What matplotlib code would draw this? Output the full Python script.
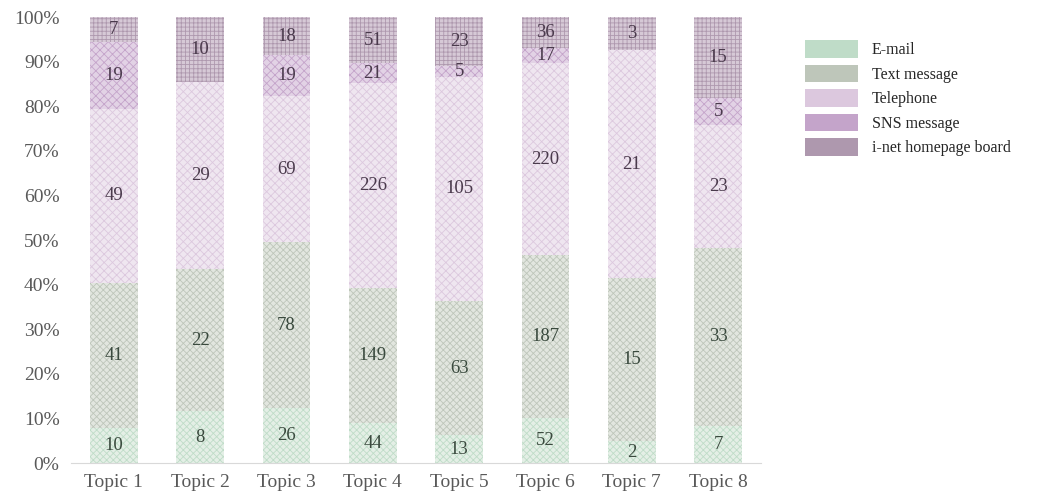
import numpy as np
import matplotlib
matplotlib.use('Agg')
import matplotlib.pyplot as plt
from matplotlib.patches import Patch

plt.rcParams['font.family'] = ['Liberation Serif', 'DejaVu Serif']
plt.rcParams['hatch.linewidth'] = 0.6

topics = ['Topic 1', 'Topic 2', 'Topic 3', 'Topic 4', 'Topic 5', 'Topic 6', 'Topic 7', 'Topic 8']
series = ['E-mail', 'Text message', 'Telephone', 'SNS message', 'i-net homepage board']
email = [10, 8, 26, 44, 13, 52, 2, 7]
text_msg = [41, 22, 78, 149, 63, 187, 15, 33]
telephone = [49, 29, 69, 226, 105, 220, 21, 23]
sns = [19, 0, 19, 21, 5, 17, 0, 5]
inet = [7, 10, 18, 51, 23, 36, 3, 15]

colors = ['#bfdcc8', '#bec6ba', '#dcc8de', '#c4a4ca', '#ae98ae']
faces = ['#e4efe6', '#e2e6df', '#efe6f0', '#e2d2e5', '#d6c9d6']
hatches = ['xxxxx', 'xxxxx', 'xxxx', 'xxxx', '++++']
txtcol = ['#3a4a3e', '#3a4a3e', '#4a3a4c', '#4a3a4c', '#4a3a4c']

data = np.array([email, text_msg, telephone, sns, inet], dtype=float)
pct = data / data.sum(axis=0)

fig = plt.figure(figsize=(10.4, 5.04), dpi=100)
ax = fig.add_axes([0.068, 0.081, 0.664, 0.885])
x = np.arange(len(topics))
bottom = np.zeros(len(topics))
for i, name in enumerate(series):
    ax.bar(x, pct[i], 0.55, bottom=bottom, color=faces[i], edgecolor=colors[i],
           hatch=hatches[i], linewidth=0)
    for j in range(len(topics)):
        if data[i, j] > 0:
            ax.text(x[j], bottom[j] + pct[i, j] / 2, '%d' % data[i, j],
                    ha='center', va='center', fontsize=13.5, color=txtcol[i])
    bottom += pct[i]

ax.set_xlim(-0.5, 7.5)
ax.set_ylim(0, 1)
ax.set_yticks(np.arange(0, 1.01, 0.1))
ax.set_yticklabels(['%d%%' % v for v in range(0, 101, 10)])
ax.set_xticks(x)
ax.set_xticklabels(topics)
ax.tick_params(length=0, labelsize=14, labelcolor='#595959', pad=8)
for s in ['top', 'right', 'left']:
    ax.spines[s].set_visible(False)
ax.spines['bottom'].set_color('#d9d9d9')

handles = [Patch(facecolor=c, edgecolor='none') for c in colors]
fig.legend(handles, series, loc='upper left', bbox_to_anchor=(0.774, 0.92),
           frameon=False, fontsize=11.5, handlelength=3.3, handleheight=1.3,
           labelspacing=0.4, handletextpad=0.9, borderpad=0, borderaxespad=0,
           labelcolor='#262626')

fig.savefig('out.png')
